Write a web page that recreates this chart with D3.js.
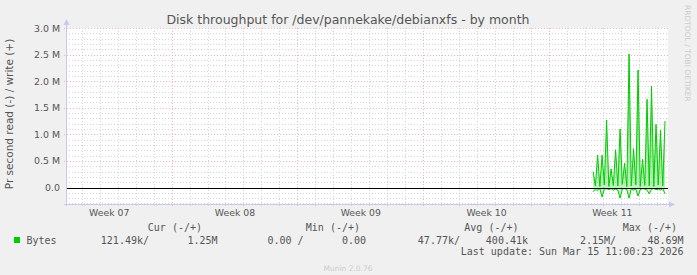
<!DOCTYPE html>
<html>
<head>
<meta charset="utf-8">
<script src="https://cdn.jsdelivr.net/npm/d3@7"></script>
<style>
  body { margin: 0; background: #f0f0f0; }
  text { font-family: "DejaVu Sans", sans-serif; }
  .mono { font-family: "DejaVu Sans Mono", monospace; font-size: 10px; fill: #555; }
</style>
</head>
<body>
<script>
// data: munin disk throughput, month view (samples every 3 hours, last 4 days only)
var firstSample = "2026-03-11T11:00:00Z";
var sampleStepHours = 3;
// write (+) in bytes per second
var writeValues = [
  0.30e6, 0.03e6, 0.61e6, 0.02e6, 0.61e6, 0.05e6, 1.27e6, 0.02e6, 0.35e6, 0.04e6,
  0.71e6, 0.03e6, 1.10e6, 0.06e6, 0.46e6, 0.02e6, 2.51e6, 0.03e6, 0.73e6, 0.05e6,
  2.21e6, 0.02e6, 0.53e6, 0.04e6, 1.66e6, 0.03e6, 1.91e6, 0.02e6, 1.19e6, 0.05e6,
  1.08e6, 0.03e6, 1.25e6
];
// read (-) in bytes per second (drawn below zero)
var readValues = [
  0.08e6, 0.03e6, 0.06e6, 0.02e6, 0.18e6, 0.03e6, 0.02e6, 0.04e6, 0.02e6, 0.05e6,
  0.03e6, 0.05e6, 0.20e6, 0.03e6, 0.02e6, 0.04e6, 0.20e6, 0.02e6, 0.05e6, 0.03e6,
  0.16e6, 0.04e6, 0.02e6, 0.03e6, 0.05e6, 0.12e6, 0.03e6, 0.02e6, 0.04e6, 0.03e6,
  0.05e6, 0.02e6, 0.12e6
];
var weekLabels = ["Week 07", "Week 08", "Week 09", "Week 10", "Week 11"];
var weekStarts = ["2026-02-09", "2026-02-16", "2026-02-23", "2026-03-02", "2026-03-09"];
var yTickValues = [0, 0.5e6, 1.0e6, 1.5e6, 2.0e6, 2.5e6, 3.0e6];
var yTickLabels = ["0.0", "0.5 M", "1.0 M", "1.5 M", "2.0 M", "2.5 M", "3.0 M"];
var timeStart = new Date("2026-02-10T03:00:00Z");
var timeEnd = new Date("2026-03-15T15:00:00Z");
var legendHeaders = ["Cur (-/+)", "Min (-/+)", "Avg (-/+)", "Max (-/+)"];
var legendValues = ["121.49k/", "1.25M", "0.00 /", "0.00", "47.77k/", "400.41k", "2.15M/", "48.69M"];

var W = 697, H = 275;
// plot box (don't use "top" as a name, it's window.top)
var pL = 66, pR = 668, pT = 28, pB = 204;

var x = d3.scaleUtc().domain([timeStart, timeEnd]).range([pL, pR]);
var y = d3.scaleLinear().domain([-0.31e6, 3.0e6]).range([pB, pT]);

var svg = d3.select("body").append("svg")
    .attr("width", W)
    .attr("height", H);

svg.append("rect").attr("width", W).attr("height", H).attr("fill", "#f0f0f0");
svg.append("rect")
    .attr("x", pL).attr("y", pT)
    .attr("width", pR - pL).attr("height", pB - pT)
    .attr("fill", "#ffffff");

// samples
var t0 = new Date(firstSample).getTime();
var samples = writeValues.map(function(v, i) {
    return { t: new Date(t0 + i * sampleStepHours * 3600e3), write: v, read: readValues[i] };
});

// minor grid
var days = d3.utcDay.range(d3.utcDay.ceil(timeStart), timeEnd);
var mondays = d3.utcMonday.range(timeStart, timeEnd);
var mondayKeys = mondays.map(function(d) { return +d; });
var minorY = d3.range(-3, 31).map(function(k) { return k * 0.1e6; });
var minorCol = "#d6d6d6", majorCol = "#f2b4b4";

var grid = svg.append("g").attr("shape-rendering", "crispEdges");
grid.selectAll(".vminor")
    .data(days.filter(function(d) { return mondayKeys.indexOf(+d) < 0; }))
    .enter().append("line")
    .attr("x1", function(d) { return Math.round(x(d)) + 0.5; })
    .attr("x2", function(d) { return Math.round(x(d)) + 0.5; })
    .attr("y1", pT).attr("y2", pB)
    .attr("stroke", minorCol).attr("stroke-dasharray", "1,2");
grid.selectAll(".hminor")
    .data(minorY.filter(function(v) { return Math.round(v / 1e5) % 5 != 0; }))
    .enter().append("line")
    .attr("x1", pL).attr("x2", pR)
    .attr("y1", function(d) { return Math.round(y(d)) + 0.5; })
    .attr("y2", function(d) { return Math.round(y(d)) + 0.5; })
    .attr("stroke", minorCol).attr("stroke-dasharray", "1,2");

// major grid (red)
grid.selectAll(".vmajor")
    .data(mondays)
    .enter().append("line")
    .attr("x1", function(d) { return Math.round(x(d)) + 0.5; })
    .attr("x2", function(d) { return Math.round(x(d)) + 0.5; })
    .attr("y1", pT).attr("y2", pB + 2)
    .attr("stroke", majorCol).attr("stroke-dasharray", "1,2");
grid.selectAll(".hmajor")
    .data(yTickValues.filter(function(v) { return v > 0; }))
    .enter().append("line")
    .attr("x1", pL - 2).attr("x2", pR)
    .attr("y1", function(d) { return Math.round(y(d)) + 0.5; })
    .attr("y2", function(d) { return Math.round(y(d)) + 0.5; })
    .attr("stroke", majorCol).attr("stroke-dasharray", "1,2");

// small ticks on the axes
grid.selectAll(".xtick")
    .data(days)
    .enter().append("line")
    .attr("x1", function(d) { return Math.round(x(d)) + 0.5; })
    .attr("x2", function(d) { return Math.round(x(d)) + 0.5; })
    .attr("y1", pB).attr("y2", pB + 2)
    .attr("stroke", function(d) { return mondayKeys.indexOf(+d) < 0 ? minorCol : majorCol; });

// data: area + line, write up and read down
var grad = svg.append("defs").append("linearGradient")
    .attr("id", "g").attr("gradientUnits", "userSpaceOnUse")
    .attr("x1", 0).attr("x2", 0).attr("y1", y(2.5e6)).attr("y2", y(0));
grad.append("stop").attr("offset", "0").attr("stop-color", "#22cc22").attr("stop-opacity", 0.75);
grad.append("stop").attr("offset", "1").attr("stop-color", "#22cc22").attr("stop-opacity", 0.3);

var areaWrite = d3.area()
    .x(function(d) { return x(d.t); })
    .y0(y(0))
    .y1(function(d) { return y(d.write); });
var areaRead = d3.area()
    .x(function(d) { return x(d.t); })
    .y0(y(0))
    .y1(function(d) { return y(-d.read); });
var lineWrite = d3.line()
    .x(function(d) { return x(d.t); })
    .y(function(d) { return y(d.write); });
var lineRead = d3.line()
    .x(function(d) { return x(d.t); })
    .y(function(d) { return y(-d.read); });

svg.append("path").datum(samples).attr("d", areaWrite).attr("fill", "url(#g)");
svg.append("path").datum(samples).attr("d", areaRead).attr("fill", "#22cc22").attr("fill-opacity", 0.25);
svg.append("path").datum(samples).attr("d", lineWrite)
    .attr("fill", "none").attr("stroke", "#00cc00").attr("stroke-width", 1);
svg.append("path").datum(samples).attr("d", lineRead)
    .attr("fill", "none").attr("stroke", "#00cc00").attr("stroke-width", 1);

// zero line
svg.append("line")
    .attr("x1", pL).attr("x2", pR)
    .attr("y1", Math.round(y(0)) + 0.5).attr("y2", Math.round(y(0)) + 0.5)
    .attr("stroke", "#000").attr("shape-rendering", "crispEdges");

// axis lines with arrows
var axisCol = "#c8c8f0";
svg.append("line")
    .attr("x1", pL + 0.5).attr("x2", pL + 0.5).attr("y1", pB + 2).attr("y2", pT - 4)
    .attr("stroke", axisCol).attr("shape-rendering", "crispEdges");
svg.append("line")
    .attr("x1", pL - 2).attr("x2", pR + 3).attr("y1", pB + 0.5).attr("y2", pB + 0.5)
    .attr("stroke", axisCol).attr("shape-rendering", "crispEdges");
svg.append("path")
    .attr("d", "M" + (pL - 2.5) + "," + (pT - 3) + "L" + (pL + 0.5) + "," + (pT - 9) + "L" + (pL + 3.5) + "," + (pT - 3) + "Z")
    .attr("fill", axisCol);
svg.append("path")
    .attr("d", "M" + (pR + 1) + "," + (pB - 2.5) + "L" + (pR + 7) + "," + (pB + 0.5) + "L" + (pR + 1) + "," + (pB + 3.5) + "Z")
    .attr("fill", axisCol);

// axes (labels only)
var yAxis = d3.axisLeft(y)
    .tickValues(yTickValues)
    .tickFormat(function(d, i) { return yTickLabels[i]; })
    .tickSize(0)
    .tickPadding(6);
var gy = svg.append("g").attr("transform", "translate(" + pL + ",0)").call(yAxis);
gy.select(".domain").remove();
gy.selectAll("text").attr("font-family", "DejaVu Sans").attr("font-size", "9.4px").attr("fill", "#555");

var labelDates = weekStarts.map(function(s) { return new Date(new Date(s + "T00:00:00Z").getTime() + 3.5 * 864e5); });
var xAxis = d3.axisBottom(x)
    .tickValues(labelDates)
    .tickFormat(function(d, i) { return weekLabels[i]; })
    .tickSize(0)
    .tickPadding(5.5);
var gx = svg.append("g").attr("transform", "translate(0," + pB + ")").call(xAxis);
gx.select(".domain").remove();
gx.selectAll("text").attr("font-family", "DejaVu Sans").attr("font-size", "9.3px").attr("fill", "#555");

// titles
svg.append("text")
    .attr("x", 348).attr("y", 24)
    .attr("text-anchor", "middle")
    .attr("font-size", "12.5px").attr("fill", "#555")
    .text("Disk throughput for /dev/pannekake/debianxfs - by month");
svg.append("text")
    .attr("transform", "translate(13,114) rotate(-90)")
    .attr("text-anchor", "middle")
    .attr("font-size", "10.5px").attr("fill", "#555")
    .text("Pr second read (-) / write (+)");
svg.append("text")
    .attr("transform", "translate(685,5) rotate(90)")
    .attr("font-size", "7.5px").attr("fill", "#cccccc")
    .text("RRDTOOL / TOBI OETIKER");

// legend
var headerEnds = [202, 360, 518.5, 677];
svg.selectAll(".lh")
    .data(legendHeaders)
    .enter().append("text")
    .attr("class", "mono")
    .attr("x", function(d, i) { return headerEnds[i]; })
    .attr("y", 231)
    .attr("text-anchor", "end")
    .text(function(d) { return d; });

svg.append("rect").attr("x", 14).attr("y", 237).attr("width", 6).attr("height", 6).attr("fill", "#00cc00");
svg.append("text").attr("class", "mono").attr("x", 26.5).attr("y", 243.5).text("Bytes");

var valueEnds = [149, 217.5, 303.5, 366, 460, 528, 616, 683.5];
svg.selectAll(".lv")
    .data(legendValues)
    .enter().append("text")
    .attr("class", "mono")
    .attr("x", function(d, i) { return valueEnds[i]; })
    .attr("y", 243.5)
    .attr("text-anchor", "end")
    .attr("xml:space", "preserve")
    .text(function(d) { return d; });

svg.append("text").attr("class", "mono")
    .attr("x", 683.5).attr("y", 254.5)
    .attr("text-anchor", "end")
    .text("Last update: Sun Mar 15 11:00:23 2026");

svg.append("text")
    .attr("x", 348).attr("y", 271)
    .attr("text-anchor", "middle")
    .attr("font-size", "7.5px").attr("fill", "#cccccc")
    .text("Munin 2.0.76");
</script>
</body>
</html>
